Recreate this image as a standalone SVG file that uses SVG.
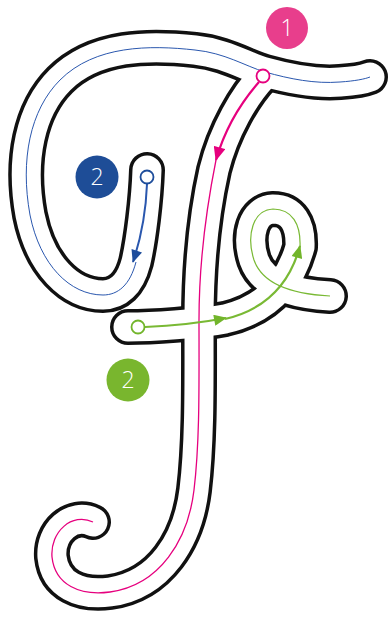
<svg xmlns="http://www.w3.org/2000/svg" width="390" height="618" viewBox="0 0 390 618">
<defs>
<style>
.out{fill:none;stroke:#111;stroke-width:36;stroke-linecap:round;stroke-linejoin:round}
.in{fill:none;stroke:#fff;stroke-width:29;stroke-linecap:round;stroke-linejoin:round}
.pk{fill:none;stroke:#E6007E}
.bl{fill:none;stroke:#2A57AE}
.gr{fill:none;stroke:#79B934}
.badge text{font-family:"Open Sans","Liberation Sans",sans-serif;font-weight:300;font-size:23px;fill:#fff;text-anchor:middle}
</style>
<marker id="ap" viewBox="0 0 14 12" refX="13" refY="6" markerWidth="15" markerHeight="12" markerUnits="userSpaceOnUse" orient="auto"><path d="M0,0 L14,6 L0,12 Z" fill="#E6007E"/></marker>
<marker id="ab" viewBox="0 0 14 12" refX="13" refY="6" markerWidth="15" markerHeight="11" markerUnits="userSpaceOnUse" orient="auto"><path d="M0,0 L14,6 L0,12 Z" fill="#1E4D9B"/></marker>
<marker id="ag" viewBox="0 0 14 12" refX="13" refY="6" markerWidth="15" markerHeight="11" markerUnits="userSpaceOnUse" orient="auto"><path d="M0,0 L14,6 L0,12 Z" fill="#72B52B"/></marker>
<path id="pStem" d="M263,76 C245,95 224,130 214,170 C204,215 199,260 199,320 C199,380 200,440 194,490 C188,540 160,585 110,592 C80,596 55,585 52,557 C50,532 72,512 93,522"/>
<path id="pTop" d="M147,170 C146,200 141,240 136,262 C130,285 118,295 103,295 C70,295 40,265 30,215 C20,160 30,110 60,80 C95,45 150,45 195,50 C225,53 245,66 265,72 C290,79 315,84 340,82 C355,81 365,79 370,77"/>
<path id="pGreen" d="M128,327 C150,327 200,324 225,319 C255,312 287,294 300,247 C301,224 292,209 273,209 C253,210 246,235 254,260 C262,283 290,294 330,296"/>
</defs>
<g id="letter-outline">
<use href="#pStem" class="out"/>
<use href="#pTop" class="out"/>
<use href="#pGreen" class="out"/>
<use href="#pStem" class="in"/>
<use href="#pTop" class="in"/>
<use href="#pGreen" class="in"/>
</g>
<g id="connectors">
<path class="bl" stroke-width="1" d="M136,262 C130,285 118,295 103,295 C70,295 40,265 30,215 C20,160 30,110 60,80 C95,45 150,45 195,50 C225,53 245,66 265,72 C290,79 315,84 340,82 C355,81 365,79 370,77"/>
<path class="bl" stroke="#1E4D9B" stroke-width="2" d="M147,184 C146,210 141,238 133,262" marker-end="url(#ab)"/>
<path class="pk" stroke-width="1.3" d="M216,160 C208,200 199,260 199,320 C199,380 200,440 194,490 C188,540 160,585 110,592 C80,596 55,585 52,557 C50,532 72,512 93,522"/>
<path class="pk" stroke-width="2.2" d="M259,82 C245,98 226,125 216,160" marker-end="url(#ap)"/>
<path class="gr" stroke-width="2.2" d="M145,327 C170,326 200,323 226,318" marker-end="url(#ag)"/>
<path class="gr" stroke-width="2.2" d="M225,319 C255,312 287,294 300,246" marker-end="url(#ag)"/>
<path class="gr" stroke-width="1.2" d="M300,247 C301,224 292,209 273,209 C253,210 246,235 254,260 C262,283 290,294 330,296"/>
</g>
<g id="start-points">
<circle cx="263" cy="76" r="6.5" fill="#fff" stroke="#E6007E" stroke-width="1.8"/>
<circle cx="147" cy="177" r="6.5" fill="#fff" stroke="#1E4D9B" stroke-width="1.8"/>
<circle cx="138" cy="327" r="6.5" fill="#fff" stroke="#72B52B" stroke-width="1.8"/>
</g>
<g id="badge-1" class="badge"><circle cx="287" cy="28" r="21" fill="#E83E8C"/><text x="287" y="36">1</text></g>
<g id="badge-2-blue" class="badge"><circle cx="97" cy="177" r="21.5" fill="#1E4D97"/><text x="97" y="185">2</text></g>
<g id="badge-2-green" class="badge"><circle cx="128" cy="380" r="21.5" fill="#79B62E"/><text x="128" y="388">2</text></g>
</svg>
